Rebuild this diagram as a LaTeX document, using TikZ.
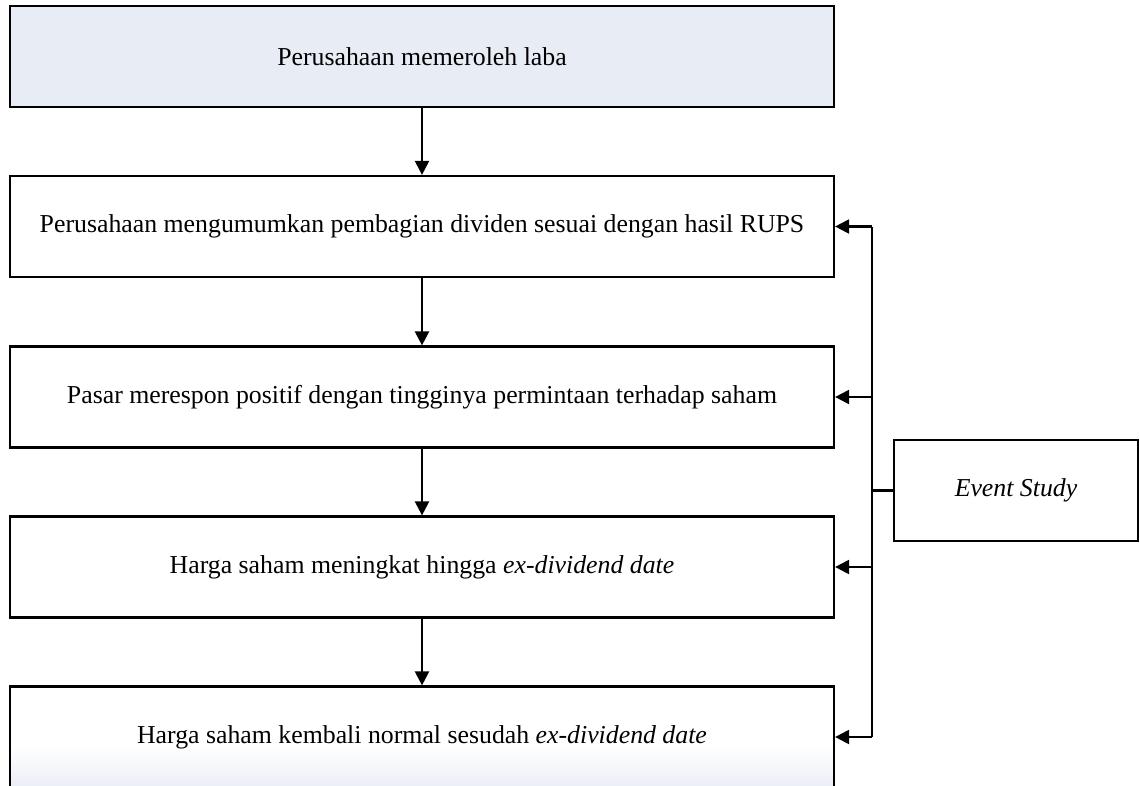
\documentclass[tikz,border=0pt]{standalone}
\usepackage{fontspec}
\setmainfont{Liberation Serif}
\usetikzlibrary{arrows.meta,backgrounds}
\definecolor{boxfill}{HTML}{E8ECF5}
\tikzset{x=1pt, y=-1pt,
        every node/.style={font=\fontsize{25.8}{30}\selectfont},
        stepbox/.style={ % the steps on the left
            draw, line width=2.2pt,
            minimum width=824pt, minimum height=101pt},
        studybox/.style={
            draw, line width=2.2pt,
            minimum width=244pt, minimum height=101pt},
        arr/.style={ % connectors with filled heads
            draw, line width=2.2pt,
            -{Triangle[length=14pt,width=14pt]}}
        }
\begin{document}
\begin{tikzpicture}
    \useasboundingbox (0,0) rectangle (1140,785);
    \clip (0,0) rectangle (1140,785);

    \node[stepbox, fill=boxfill] (b1) at (422,56.5) {Perusahaan memeroleh laba};
    \node[stepbox] (b2) at (422,226.5) {Perusahaan mengumumkan pembagian dividen sesuai dengan hasil RUPS};
    \node[stepbox] (b3) at (422,397) {Pasar merespon positif dengan tingginya permintaan terhadap saham};
    \node[stepbox] (b4) at (422,567) {Harga saham meningkat hingga \textit{ex-dividend date}};
    \node[stepbox] (b5) at (422,737) {Harga saham kembali normal sesudah \textit{ex-dividend date}};
    \node[studybox] (ev) at (1016,490.5) {\textit{Event Study}};

    % soft shade at the foot of the last box
    \begin{scope}[on background layer]
        \shade[top color=white, bottom color=boxfill] ([yshift=-8pt]b5.west) rectangle ([yshift=-8pt]b5.east |- 0,785);
    \end{scope}

    \coordinate (bus) at (872,0);

    \draw[arr] (b1) -- (b2);
    \draw[arr] (b2) -- (b3);
    \draw[arr] (b3) -- (b4);
    \draw[arr] (b4) -- (b5);

    \draw[line width=2.2pt] (b2.east -| bus) -- (b5.east -| bus);
    \draw[line width=2.2pt] (ev.west) -- (ev.west -| bus);
    \draw[arr] (b2.east -| bus) -- (b2.east);
    \draw[arr] (b3.east -| bus) -- (b3.east);
    \draw[arr] (b4.east -| bus) -- (b4.east);
    \draw[arr] (b5.east -| bus) -- (b5.east);
\end{tikzpicture}
\end{document}
